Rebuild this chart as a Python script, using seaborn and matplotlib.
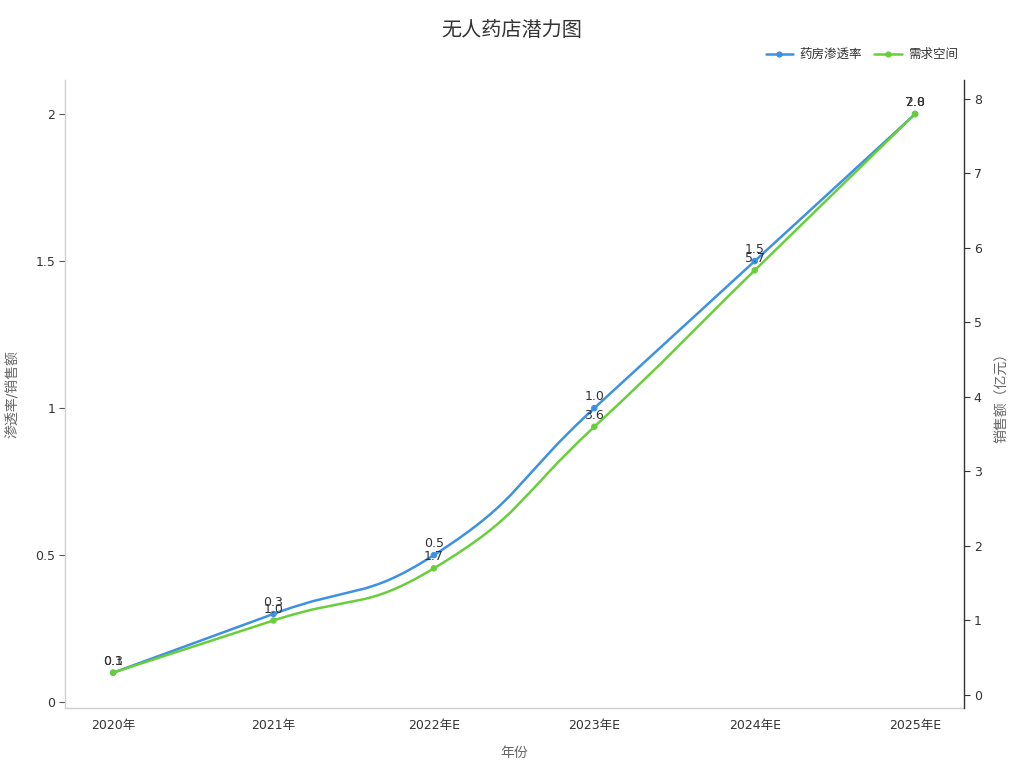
import numpy as np
import pandas as pd
import matplotlib
matplotlib.use("Agg")
import matplotlib.pyplot as plt
import seaborn as sns
from matplotlib.path import Path
from matplotlib.patches import PathPatch
from matplotlib.lines import Line2D

# Datos del gráfico
anios = ["2020年", "2021年", "2022年E", "2023年E", "2024年E", "2025年E"]
penetracion = [0.1, 0.3, 0.5, 1.0, 1.5, 2.0]   # 药房渗透率 (eje izquierdo)
demanda = [0.3, 1.0, 1.7, 3.6, 5.7, 7.8]        # 需求空间 (eje derecho, 亿元)

df = pd.DataFrame({"anio": anios, "x": range(len(anios)),
                   "penetracion": penetracion, "demanda": demanda})

AZUL = "#3d91e3"
VERDE = "#68cf3a"

sns.set_theme(style="white")
plt.rcParams["font.family"] = ["DejaVu Sans", "Noto Sans CJK SC"]
plt.rcParams["axes.unicode_minus"] = False

fig = plt.figure(figsize=(10.24, 7.68), dpi=100)
ax = fig.add_axes([65 / 1024, 1 - 708 / 768, (964 - 65) / 1024, (708 - 80) / 768])
ax2 = ax.twinx()

ax.set_xlim(-0.3, 5.305)
ax.set_ylim(-0.02, 2.116)
ax2.set_ylim(-0.175, 8.255)


def curva_suave(eje, xs, ys, color, suavizado=0.5):
    # curva tipo ECharts (bezier) calculada en coordenadas de pantalla
    pts = eje.transData.transform(np.column_stack([xs, ys]))
    n = len(pts)
    verts = [pts[0]]
    codes = [Path.MOVETO]
    cps = []
    for i in range(n):
        prev = pts[i - 1] if i > 0 else pts[i]
        nxt = pts[i + 1] if i < n - 1 else pts[i]
        v = (nxt - prev) * suavizado
        d0 = np.hypot(*(pts[i] - prev))
        d1 = np.hypot(*(nxt - pts[i]))
        s = d0 + d1
        if s > 0:
            d0, d1 = d0 / s, d1 / s
        cps.append((pts[i] - v * d0, pts[i] + v * d1))
    for i in range(n - 1):
        verts += [cps[i][1], cps[i + 1][0], pts[i + 1]]
        codes += [Path.CURVE4] * 3
    verts = eje.transData.inverted().transform(np.array(verts))
    patch = PathPatch(Path(verts, codes), facecolor="none", edgecolor=color,
                      lw=1.8, transform=eje.transData, zorder=3)
    eje.add_patch(patch)


curva_suave(ax, df["x"], df["penetracion"], AZUL)
curva_suave(ax2, df["x"], df["demanda"], VERDE)

sns.scatterplot(data=df, x="x", y="penetracion", ax=ax, color=AZUL, s=22,
                edgecolor="none", zorder=4, legend=False)
sns.scatterplot(data=df, x="x", y="demanda", ax=ax2, color=VERDE, s=22,
                edgecolor="none", zorder=4, legend=False)

# Etiquetas de valores (se solapan igual que en el original)
for xi, v in zip(df["x"], df["penetracion"]):
    ax.annotate(f"{v:.1f}", (xi, v), xytext=(0, 3.5), textcoords="offset points",
                ha="center", va="bottom", fontsize=9, color="#333333")
for xi, v in zip(df["x"], df["demanda"]):
    ax2.annotate(f"{v:.1f}", (xi, v), xytext=(0, 3.5), textcoords="offset points",
                 ha="center", va="bottom", fontsize=9, color="#333333")

# Ejes
ax.set_xticks(df["x"])
ax.set_xticklabels(anios, fontsize=9, color="#333333")
ax.set_yticks([0, 0.5, 1, 1.5, 2])
ax.set_yticklabels(["0", "0.5", "1", "1.5", "2"], fontsize=9, color="#333333")
ax2.set_yticks(range(0, 9))
ax2.set_yticklabels([str(i) for i in range(0, 9)], fontsize=9, color="#333333")

ax.set_xlabel("年份", fontsize=10, color="#666666", labelpad=10)
ax.set_ylabel("渗透率/销售额", fontsize=10, color="#666666", labelpad=12)
ax2.set_ylabel("销售额（亿元）", fontsize=10, color="#666666", labelpad=9)

for a in (ax, ax2):
    for lado in ("top", "left", "bottom", "right"):
        a.spines[lado].set_visible(False)
ax.spines["left"].set_visible(True)
ax.spines["left"].set_color("#d0d0d0")
ax.spines["left"].set_linewidth(1.0)
ax.spines["bottom"].set_visible(True)
ax.spines["bottom"].set_color("#d0d0d0")
ax.spines["bottom"].set_linewidth(1.0)
ax2.spines["right"].set_visible(True)
ax2.spines["right"].set_color("#333333")
ax2.spines["right"].set_linewidth(1.0)
ax.tick_params(axis="x", length=4, width=0.8, color="#cccccc", pad=4)
ax.tick_params(axis="y", length=4, width=0.8, color="#555555", left=True, pad=3)
ax2.tick_params(axis="y", length=4, width=0.8, color="#333333", right=True, pad=3)
ax.grid(False)
ax2.grid(False)

fig.suptitle("无人药店潜力图", x=0.5, y=1 - 21 / 768, fontsize=14.5, color="#333333",
             va="top")

manejadores = [
    Line2D([], [], color=AZUL, lw=1.8, marker="o", markersize=3.5),
    Line2D([], [], color=VERDE, lw=1.8, marker="o", markersize=3.5),
]
fig.legend(manejadores, ["药房渗透率", "需求空间"], loc="upper right",
           bbox_to_anchor=(963 / 1024, 1 - 43 / 768), ncol=2, frameon=False,
           fontsize=9, handlelength=2.2, columnspacing=1.0, handletextpad=0.5,
           labelcolor="#333333", borderaxespad=0)

fig.savefig("out.png", dpi=100)
